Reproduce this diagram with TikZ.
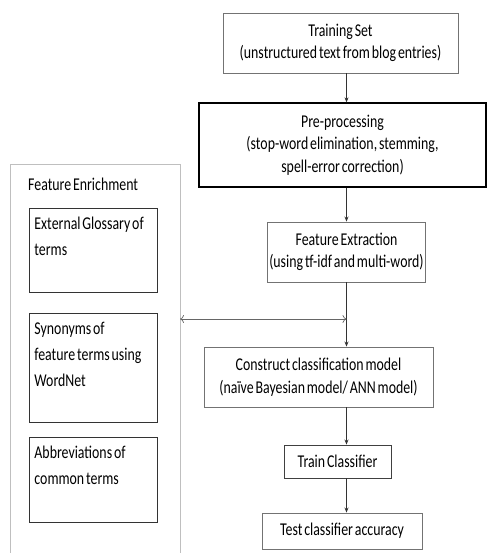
\documentclass[tikz,border=0pt]{standalone}
\usepackage{fontspec}
\setmainfont{Carlito}[FakeStretch=0.77, WordSpace=0.6]
\usetikzlibrary{arrows.meta,positioning}

\newcommand{\toptext}[2]{\parbox[c][#1][t]{118pt}{\fontsize{18}{26}\selectfont\vspace{9pt}#2}}

\begin{document}
\begin{tikzpicture}[x=1pt, y=-1pt,
    every node/.style={font=\fontsize{18}{22.5}\selectfont},
    box/.style={draw=gray!90!black, line width=0.9pt, align=center, inner sep=2pt},
    subbox/.style={draw=black!80, line width=0.9pt, anchor=north west,
        minimum width=128pt, inner xsep=5pt, inner ysep=0pt},
    arr/.style={draw=black!80, line width=0.7pt, -{Stealth[length=5pt,width=4pt]}},
    link/.style={draw=gray!80!black, line width=0.7pt, {To[length=4pt,width=8pt]}-{To[length=4pt,width=8pt]}}
]
\clip (0,0) rectangle (487,553);
\fill[white] (0,0) rectangle (487,553);

% main flow
\node[box, minimum width=235pt, minimum height=60pt] (ts) at (340.5,43)
    {Training Set\\(unstructured text from blog entries)};
\node[box, draw=black, line width=1.3pt, minimum width=287pt, minimum height=84pt] (pre) at (342.5,145)
    {Pre-processing\\(stop-word elimination, stemming,\\spell-error correction)};
\node[box, minimum width=157pt, minimum height=60pt] (fe) at (346.5,252)
    {Feature Extraction\\(using tf-idf and multi-word)};
\node[box, minimum width=229pt, minimum height=60pt] (ccm) at (318.5,377)
    {Construct classification model\\(na\"ive Bayesian model/ ANN model)};
\node[box, draw=black!75, minimum width=107pt, minimum height=33pt] (tc) at (337.5,461.5)
    {Train Classifier};
\node[box, minimum width=160pt, minimum height=36pt] (tca) at (342,531)
    {Test classifier accuracy};

% enrichment panel (open at the bottom)
\draw[gray!50, line width=1pt] (10,600) -- (10,165) -- (180,165) -- (180,600);
\coordinate (fen) at (180,319);
\node[anchor=west, inner sep=0pt] (fenlbl) at (28,184) {Feature Enrichment};

\node[subbox] (gloss) at (29,208)
    {\toptext{84pt}{External Glossary of\\terms}};
\node[subbox] (syn) at (29,313)
    {\toptext{109pt}{Synonyms of\\feature terms using\\WordNet}};
\node[subbox] (abbr) at (29,437)
    {\toptext{85pt}{Abbreviations of\\common terms}};

\coordinate (join) at (fe.south |- fen);

\draw[arr] (ts.south -| fe.south) -- (pre.north -| fe.south);
\draw[arr] (pre.south -| fe.south) -- (fe.north);
\draw[arr] (fe.south) -- (ccm.north -| fe.south);
\draw[arr] (ccm.south -| fe.south) -- (tc.north -| fe.south);
\draw[arr] (tc.south -| fe.south) -- (tca.north -| fe.south);
\draw[link] (fen) -- (join);

\end{tikzpicture}
\end{document}
